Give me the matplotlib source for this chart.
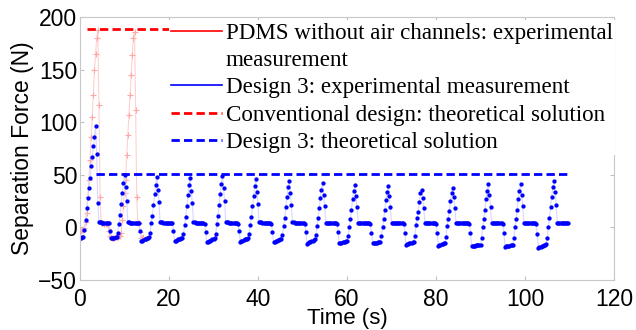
import numpy as np
import matplotlib.pyplot as plt
from matplotlib.lines import Line2D

# both force records were logged every 0.25 s
sample_interval = 0.25

# PDMS without air channels, measured (N)
pdms_force = [-2, -3, -2, -2, -1, 5,
              14, 29, 45, 64, 86, 105, 126, 150, 165, 180, 188, 116, 29,
              4, 4, 4, 3.5, 3.5, 3, 3,
              -3, -8, -9, -10, -10, -10, -9.5, -9, -9, -8.5, -8, -5,
              7, 20, 33, 45, 69, 88, 107, 126, 145, 164, 180, 186,
              112, 29, 4, 4, -4, -10, -10, -9]

# Design 3, measured (N), one list per pull cycle
design3_cycles = [
    [-10, -10, -9.5, -9, -2, 7, 18, 28, 37, 47, 58, 67, 77, 86, 96, 70, 23,
     4.8, 4.7, 4.7, 4.6, 4.5, 4.5, 4.4, 4.4, 4.3, 4.0, -3,
     -10.5, -10.5, -10, -10, -9.5, -9.5],
    [-5, 3, 12, 22, 33, 42, 50, 38, 25,
     4.8, 4.7, 4.6, 4.6, 4.5, 4.5, 4.4, 4.4, 4.3, 4.2, 3.8, -3,
     -13, -12.5, -12, -11.5, -11, -10.5, -10, -9.5],
    [-5, 4, 11, 21, 32, 40, 48, 36, 24,
     4.9, 4.8, 4.7, 4.6, 4.6, 4.5, 4.5, 4.4, 4.4, 4.3, 4.2, 3.8, -3,
     -13, -12.5, -12, -11.5, -11, -11, -10.5, -10],
    [-6, 2, 10, 20, 31, 40, 47, 35, 23,
     4.7, 4.7, 4.6, 4.6, 4.5, 4.4, 4.4, 4.3, 4.3, 4.2, 3.7, -4,
     -14, -13.5, -13, -12.5, -12, -11.5, -11, -10.5],
    [-6, 3, 11, 21, 32, 41, 49, 37, 25,
     4.8, 4.8, 4.7, 4.6, 4.6, 4.5, 4.5, 4.4, 4.4, 4.3, 4.2, 3.7, -3,
     -13.5, -13, -12.5, -12, -11.5, -11, -11, -10.5],
    [-6, 2, 10, 20, 30, 39, 46, 34, 22,
     4.8, 4.7, 4.7, 4.6, 4.5, 4.5, 4.4, 4.4, 4.3, 4.3, 4.1, 3.6, -4,
     -14, -13.5, -13, -12.5, -12, -12, -11.5, -11],
    [-7, 1, 9, 19, 29, 38, 44, 33, 21,
     4.7, 4.7, 4.6, 4.6, 4.5, 4.4, 4.4, 4.3, 4.3, 4.2, 4.1, 3.6, -4,
     -15.5, -15, -14, -13.5, -13, -12.5, -12, -11],
    [-7, 1, 9, 18, 28, 36, 42, 31, 20,
     4.6, 4.6, 4.5, 4.5, 4.4, 4.4, 4.3, 4.3, 4.2, 4.1, 3.5, -4,
     -15, -14.5, -14.5, -14, -13.5, -13.5, -13, -12.5],
    [-8, 0, 8, 17, 27, 35, 40, 30, 19,
     4.6, 4.6, 4.5, 4.5, 4.4, 4.4, 4.3, 4.3, 4.2, 4.2, 4.1, 3.5, -5,
     -15, -15, -14.5, -14.5, -14.5, -14, -14, -14],
    [-8, 0, 8, 17, 26, 34, 39.5, 30, 19,
     4.5, 4.5, 4.5, 4.4, 4.4, 4.3, 4.3, 4.2, 4.2, 4.1, 4.0, 3.4, -5,
     -16.5, -16, -15.5, -15, -14.5, -14.5, -14, -13.5],
    [-8, 2, 9, 15, 24, 32.5, 35.5, 27.5, 18,
     4.5, 4.5, 4.4, 4.4, 4.3, 4.3, 4.2, 4.2, 4.1, 4.0, 3.4, -5,
     -17.5, -17, -16.5, -16, -15.5, -15, -14.5],
    [-9, 1, 8, 16, 25, 33, 37.5, 29, 18,
     4.5, 4.5, 4.4, 4.4, 4.4, 4.3, 4.3, 4.2, 4.2, 4.1, 4.1, 4.0, 3.4, -5,
     -18, -18, -17.5, -17.5, -17, -17, -17, -16.5, -16.5],
    [-10, 0, 8, 17, 27, 35, 41, 31, 19,
     4.5, 4.4, 4.4, 4.3, 4.3, 4.2, 4.2, 4.1, 4.1, 4.0, 3.3, -5,
     -18.5, -18, -18, -17.5, -17.5, -17, -17, -16.5],
    [-10, 0, 8, 17, 27, 35, 41, 31, 20,
     4.5, 4.4, 4.4, 4.3, 4.3, 4.3, 4.2, 4.2, 4.1, 4.1, 4.0, 3.3, -6,
     -19.5, -19, -18.5, -18, -17.5, -17, -16.5, -16],
    [-10, 0, 9, 19, 29, 38, 44.5, 34, 21,
     4.6, 4.5, 4.5, 4.4, 4.4, 4.3, 4.3, 4.2, 4.2, 4.1, 4.1],
]
design3_force = [f for cycle in design3_cycles for f in cycle]

# theoretical separation forces (N) and the time span they are drawn over (s)
conventional_theory = 189
design3_theory = 51
conventional_span = [1.5, 110]
design3_span = [3.5, 110]

legend_labels = ['PDMS without air channels: experimental',
                 'measurement',
                 'Design 3: experimental measurement',
                 'Conventional design: theoretical solution',
                 'Design 3: theoretical solution']

plt.rcParams['font.family'] = ['Liberation Sans', 'DejaVu Sans']

fig = plt.figure(figsize=(6.36, 3.3), dpi=100)
ax = fig.add_axes([80 / 636, 50 / 330, 534 / 636, 263 / 330])

t_pdms = np.arange(len(pdms_force)) * sample_interval
t_design3 = np.arange(len(design3_force)) * sample_interval

ax.plot(t_pdms, pdms_force, '-', color='#ffd0d0', lw=0.8,
        marker='+', ms=5, mec='#ffa8a8', mew=0.8)
ax.plot(t_design3, design3_force, '-', color='#d8d8ff', lw=0.8,
        marker='o', ms=3.1, mfc='#0000ff', mec='#0000ff', mew=0)
ax.plot(conventional_span, [conventional_theory] * 2, color='#ff0000',
        lw=2, dashes=(3, 1.5))
ax.plot(design3_span, [design3_theory] * 2, color='#0000ff',
        lw=2, dashes=(3, 1.5))

ax.set_xlim(0, 120)
ax.set_ylim(-50, 200)
ax.set_xticks(np.arange(0, 121, 20))
ax.set_yticks(np.arange(-50, 201, 50))
ax.tick_params(direction='in', length=3, color='#c0c0c0', labelsize=16.5,
               top=True, right=True)
ax.tick_params(axis='x', pad=6)
ax.tick_params(axis='y', pad=2)
for spine in ax.spines.values():
    spine.set_color('#c8c8c8')
    spine.set_linewidth(0.8)

# axis title sits flush with the bottom edge of the figure
ax.set_xlabel('Time (s)', fontsize=16, va='bottom')
ax.xaxis.set_label_coords(0.5, -0.187)
ax.set_ylabel('Separation Force (N)', fontsize=16.5, labelpad=3)

handles = [Line2D([], [], color='#ff0000', lw=1.2),
           Line2D([], [], color='none'),
           Line2D([], [], color='#0000ff', lw=1.2),
           Line2D([], [], color='#ff0000', lw=2, dashes=(3, 1.5)),
           Line2D([], [], color='#0000ff', lw=2, dashes=(3, 1.5))]
leg = ax.legend(handles, legend_labels, loc='upper left',
                bbox_to_anchor=(0.1667, 0.988), borderaxespad=0,
                borderpad=0.1, handlelength=2.2, handletextpad=0.15,
                labelspacing=0.27, fancybox=False, framealpha=1,
                facecolor='white', edgecolor='none',
                prop={'family': 'Liberation Serif', 'size': 16.6})

fig.savefig('out.png', dpi=100)
